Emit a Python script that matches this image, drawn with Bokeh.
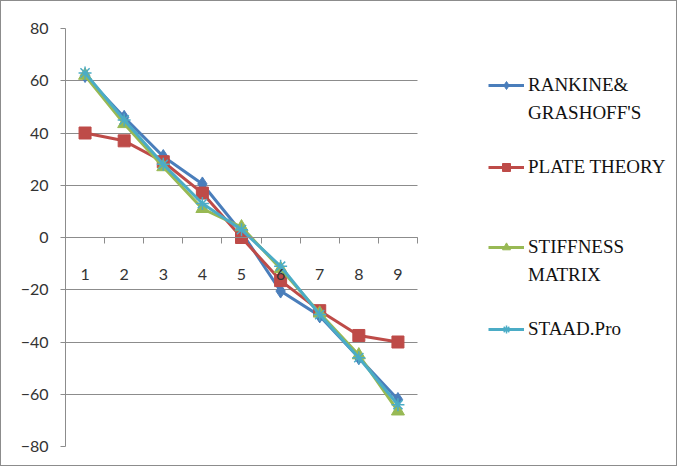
from bokeh.plotting import figure
from bokeh.models import (LinearAxis, FixedTicker, Legend, LegendItem, Range1d)
from bokeh.embed import file_html
from bokeh.resources import INLINE

# ---- data ----
points = [1, 2, 3, 4, 5, 6, 7, 8, 9]
rankine = [62, 46, 31, 20.5, 2, -20.5, -30, -46, -62]
plate = [40, 37, 29, 17, 0, -16.5, -28, -37.5, -40]
stiffness = [62, 43.5, 27, 11, 4, -12, -29, -45, -66.5]
staad = [63, 45, 28, 13, 3, -11, -29.5, -46, -64]
y_ticks = [-80, -60, -40, -20, 0, 20, 40, 60, 80]
boundaries = [1.5, 2.5, 3.5, 4.5, 5.5, 6.5, 7.5, 8.5, 9.5]

series_names = ["RANKINE&", "GRASHOFF'S", "PLATE THEORY", "STIFFNESS", "MATRIX", "STAAD.Pro"]
colors = ["#4A7EBB", "#BE4B48", "#98B954", "#4BACC6"]

AXIS_FONT = "Lato"
LEG_FONT = "Liberation Serif"

W, H = 677, 466
LEFT, RIGHT, TOP, BOTTOM = 64, 0, 27, 21
PLOT_W = 352  # pixel width of the category area
x_lo = 0.5
x_hi_cat = 9.5
x_hi = x_lo + (x_hi_cat - x_lo) * (W - LEFT - RIGHT) / PLOT_W

p = figure(width=W, height=H, output_backend="svg", toolbar_location=None,
           x_range=Range1d(x_lo, x_hi), y_range=Range1d(-80, 80),
           x_axis_location=None, min_border_left=LEFT, min_border_right=RIGHT,
           min_border_top=TOP, min_border_bottom=BOTTOM)
p.styles = {"border": "1px solid #8c8c8c"}
p.outline_line_color = None
p.background_fill_color = "white"
p.border_fill_color = "white"

# y axis
yax = p.yaxis[0]
yax.ticker = FixedTicker(ticks=y_ticks)
yax.major_tick_out = 5
yax.major_tick_in = 0
yax.minor_tick_line_color = None
yax.axis_line_color = "#8c8c8c"
yax.major_tick_line_color = "#8c8c8c"
yax.major_label_text_font = AXIS_FONT
yax.major_label_text_font_size = "16px"
yax.major_label_text_color = "#333333"
yax.major_label_standoff = 12

p.xgrid.grid_line_color = None
p.ygrid.ticker = FixedTicker(ticks=y_ticks)
try:
    p.ygrid.cross_bounds = (x_lo, x_hi_cat)
    p.ygrid.grid_line_color = "#8c8c8c"
    p.ygrid.grid_line_width = 1
except AttributeError:
    p.ygrid.grid_line_color = None
    p.segment(x0=[x_lo] * len(y_ticks), x1=[x_hi_cat] * len(y_ticks), y0=y_ticks, y1=y_ticks,
              line_color="#8c8c8c", line_width=1)

# x axis at y=0: tick marks between categories
xa_ticks = LinearAxis(ticker=FixedTicker(ticks=boundaries), fixed_location=0,
                      bounds=(x_lo, x_hi_cat))
xa_ticks.major_tick_out = 6
xa_ticks.major_tick_in = 0
xa_ticks.minor_tick_line_color = None
xa_ticks.major_label_text_alpha = 0
xa_ticks.axis_line_color = "#8c8c8c"
xa_ticks.major_tick_line_color = "#8c8c8c"
p.add_layout(xa_ticks, "below")

# x labels at category centres
xa_labels = LinearAxis(ticker=FixedTicker(ticks=points), fixed_location=0)
xa_labels.major_tick_line_color = None
xa_labels.minor_tick_line_color = None
xa_labels.axis_line_color = None
xa_labels.major_label_standoff = 25
xa_labels.major_label_text_font = AXIS_FONT
xa_labels.major_label_text_font_size = "16px"
xa_labels.major_label_text_color = "#333333"
p.add_layout(xa_labels, "below")

# series
lw = 3
r1l = p.line(points, rankine, line_color=colors[0], line_width=lw)
r1m = p.scatter(points, rankine, marker="diamond", size=14, fill_color=colors[0], line_color=colors[0])
r2l = p.line(points, plate, line_color=colors[1], line_width=lw)
r2m = p.scatter(points, plate, marker="square", size=12, fill_color=colors[1], line_color=colors[1])
r3l = p.line(points, stiffness, line_color=colors[2], line_width=lw)
r3m = p.scatter(points, stiffness, marker="triangle", size=13, fill_color=colors[2], line_color=colors[2])
r4l = p.line(points, staad, line_color=colors[3], line_width=lw)
r4m = p.scatter(points, staad, marker="asterisk", size=13, line_color=colors[3], line_width=1.5)

blank = p.line([], [], line_alpha=0)

items = [
    LegendItem(label=series_names[0], renderers=[r1l, r1m]),
    LegendItem(label=series_names[1], renderers=[blank]),
    LegendItem(label=" ", renderers=[blank]),
    LegendItem(label=series_names[2], renderers=[r2l, r2m]),
    LegendItem(label=" ", renderers=[blank]),
    LegendItem(label=" ", renderers=[blank]),
    LegendItem(label=series_names[3], renderers=[r3l, r3m]),
    LegendItem(label=series_names[4], renderers=[blank]),
    LegendItem(label=" ", renderers=[blank]),
    LegendItem(label=series_names[5], renderers=[r4l, r4m]),
]
legend = Legend(items=items, location=(423, 106), padding=0, margin=0,
                border_line_color=None, background_fill_alpha=0,
                label_text_font=LEG_FONT, label_text_font_size="19px",
                label_text_color="#111111", glyph_width=36, glyph_height=20,
                label_height=20, spacing=6, label_standoff=4)
p.add_layout(legend, "center")

open("out.html", "w").write(file_html(p, INLINE))
